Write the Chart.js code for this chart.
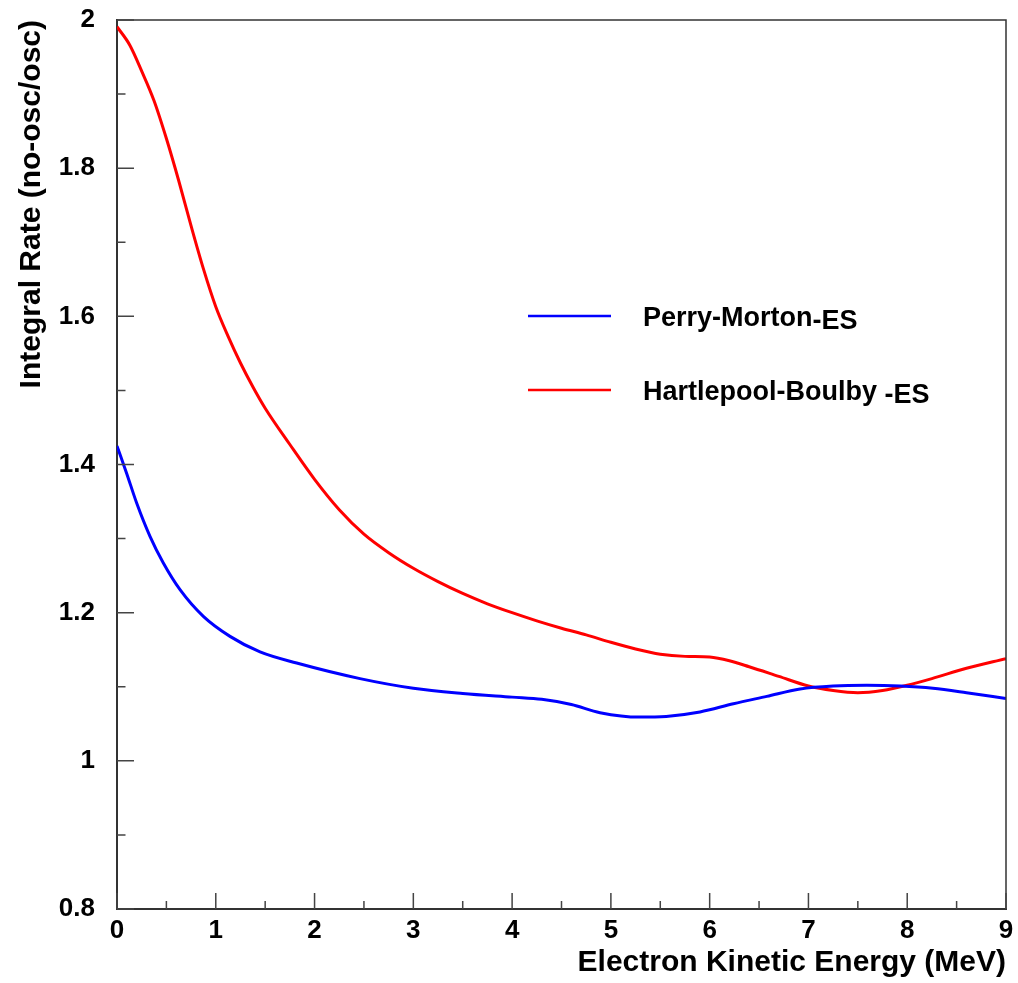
<!DOCTYPE html>
<html>
<head>
<meta charset="utf-8">
<title>Integral Rate vs Electron Kinetic Energy</title>
<script src="https://cdn.jsdelivr.net/npm/chart.js@4.4.1/dist/chart.umd.min.js"></script>
<style>
  html, body { margin: 0; padding: 0; background: #fff; }
  #wrap { width: 1018px; height: 983px; }
</style>
</head>
<body>
<div id="wrap"><canvas id="rateChart" width="1018" height="983"></canvas></div>
<script>
// ── Data ──────────────────────────────────────────────────────
const seriesLabels = ['Perry-Morton-ES', 'Hartlepool-Boulby -ES'];

const perryX = [0, 0.098, 0.199, 0.334, 0.469, 0.638, 0.874, 1.144, 1.448, 1.819, 2.46, 3.0, 3.5, 4.0, 4.3, 4.6,
                4.89, 5.29, 5.56, 5.902, 6.24, 6.578, 6.915, 7.25, 7.59, 7.93, 8.26, 8.6, 9.0];
const perryY = [1.425, 1.388, 1.348, 1.303, 1.267, 1.231, 1.195, 1.168, 1.147, 1.132, 1.111, 1.098, 1.091, 1.086, 1.083, 1.076,
                1.065, 1.059, 1.060, 1.066, 1.077, 1.087, 1.097, 1.101, 1.102, 1.101, 1.098, 1.092, 1.084];

const hartX = [0, 0.13, 0.25, 0.375, 0.5, 0.625, 0.75, 0.875, 1.0, 1.125, 1.25, 1.375, 1.5, 1.75, 2.0, 2.25, 2.5,
               2.75, 3.0, 3.25, 3.5, 3.75, 4.0, 4.25, 4.5, 4.75, 5.0, 5.25, 5.5, 5.75, 6.0, 6.2, 6.4, 6.7, 7.0,
               7.25, 7.5, 7.75, 8.0, 8.25, 8.6, 9.0];
const hartY = [1.991, 1.966, 1.931, 1.891, 1.840, 1.783, 1.722, 1.664, 1.613, 1.573, 1.537, 1.505, 1.476, 1.427, 1.380,
               1.339, 1.306, 1.281, 1.260, 1.242, 1.226, 1.212, 1.200, 1.189, 1.179, 1.170, 1.160, 1.151, 1.144,
               1.141, 1.140, 1.135, 1.127, 1.114, 1.101, 1.095, 1.092, 1.095, 1.102, 1.111, 1.125, 1.138];

const xMajorTicks = [0, 1, 2, 3, 4, 5, 6, 7, 8, 9];
const xMinorTicks = [0.5, 1.5, 2.5, 3.5, 4.5, 5.5, 6.5, 7.5, 8.5];
const yMajorTicks = [0.8, 1.0, 1.2, 1.4, 1.6, 1.8, 2.0];
const yMinorTicks = [0.9, 1.1, 1.3, 1.5, 1.7, 1.9];

const FONT = '"Liberation Sans", Arial, Helvetica, sans-serif';

// ── ROOT-style frame: inward ticks, closed box, in-plot legend ─
const rootFrame = {
    id: 'rootFrame',
    afterDraw(chart) {
        const { ctx, chartArea: a, scales: { x, y } } = chart;
        ctx.save();

        // top + right frame lines
        ctx.strokeStyle = '#333';
        ctx.lineWidth = 1.5;
        ctx.beginPath();
        ctx.moveTo(a.left, a.top);
        ctx.lineTo(a.right, a.top);
        ctx.lineTo(a.right, a.bottom);
        ctx.stroke();

        // inward tick marks
        ctx.strokeStyle = '#444';
        ctx.lineWidth = 1.5;
        ctx.beginPath();
        xMajorTicks.forEach(v => { const p = x.getPixelForValue(v); ctx.moveTo(p, a.bottom); ctx.lineTo(p, a.bottom - 16); });
        xMinorTicks.forEach(v => { const p = x.getPixelForValue(v); ctx.moveTo(p, a.bottom); ctx.lineTo(p, a.bottom - 8); });
        yMajorTicks.forEach(v => { const p = y.getPixelForValue(v); ctx.moveTo(a.left, p); ctx.lineTo(a.left + 17, p); });
        yMinorTicks.forEach(v => { const p = y.getPixelForValue(v); ctx.moveTo(a.left, p); ctx.lineTo(a.left + 8.5, p); });
        ctx.stroke();

        // legend
        const rows = [{ y: 316 }, { y: 390 }];
        ctx.font = 'bold 27px ' + FONT;
        ctx.textBaseline = 'alphabetic';
        chart.data.datasets.forEach((ds, i) => {
            const ly = rows[i].y;
            ctx.strokeStyle = ds.borderColor;
            ctx.lineWidth = 2.5;
            ctx.beginPath();
            ctx.moveTo(528, ly);
            ctx.lineTo(611, ly);
            ctx.stroke();

            // ROOT drops the "-ES" suffix a little below the baseline
            const cut = ds.label.lastIndexOf('-');
            const head = ds.label.slice(0, cut);
            const tail = ds.label.slice(cut);
            ctx.fillStyle = '#000';
            ctx.textAlign = 'left';
            ctx.fillText(head, 643, ly + 10);
            ctx.fillText(tail, 643 + ctx.measureText(head).width, ly + 13);
        });

        ctx.restore();
    }
};

// ── Chart ─────────────────────────────────────────────────────
const ctx = document.getElementById('rateChart').getContext('2d');

new Chart(ctx, {
    type: 'line',
    data: {
        datasets: [
            {
                label: seriesLabels[0],
                data: perryX.map((v, i) => ({ x: v, y: perryY[i] })),
                borderColor: '#0000ff',
                borderWidth: 3,
                pointRadius: 0,
                cubicInterpolationMode: 'monotone',
                fill: false,
            },
            {
                label: seriesLabels[1],
                data: hartX.map((v, i) => ({ x: v, y: hartY[i] })),
                borderColor: '#ff0000',
                borderWidth: 3,
                pointRadius: 0,
                cubicInterpolationMode: 'monotone',
                fill: false,
            },
        ],
    },
    options: {
        responsive: false,
        animation: false,
        devicePixelRatio: 1,
        layout: { padding: { top: 20, right: 12, left: 0, bottom: 0 } },
        plugins: {
            legend: { display: false },
            tooltip: { enabled: false },
        },
        scales: {
            x: {
                type: 'linear',
                min: 0,
                max: 9,
                // invisible outward ticks only set the gap to the labels
                grid: { display: false, drawTicks: true, tickLength: 6, tickColor: 'rgba(0,0,0,0)' },
                border: { display: true, color: '#333', width: 2 },
                ticks: {
                    stepSize: 1,
                    padding: 0,
                    color: '#000',
                    font: { family: FONT, size: 26, weight: 'bold' },
                    maxRotation: 0,
                },
                title: {
                    display: true,
                    text: 'Electron Kinetic Energy (MeV)',
                    align: 'end',
                    color: '#000',
                    font: { family: FONT, size: 30, weight: 'bold' },
                    padding: { top: 0, bottom: 2 },
                },
                afterFit: s => { s.height = 74; },
            },
            y: {
                min: 0.8,
                max: 2,
                grid: { display: false, drawTicks: true, tickLength: 22, tickColor: 'rgba(0,0,0,0)' },
                border: { display: true, color: '#333', width: 2 },
                ticks: {
                    stepSize: 0.2,
                    padding: 0,
                    color: '#000',
                    font: { family: FONT, size: 26, weight: 'bold' },
                    callback: v => String(+v.toFixed(1)),
                },
                title: {
                    display: true,
                    text: 'Integral Rate (no-osc/osc)',
                    align: 'end',
                    color: '#000',
                    font: { family: FONT, size: 30, weight: 'bold' },
                    padding: { top: 14, bottom: 0 },
                },
                afterFit: s => { s.width = 117; },
            },
        },
    },
    plugins: [rootFrame],
});
</script>
</body>
</html>
